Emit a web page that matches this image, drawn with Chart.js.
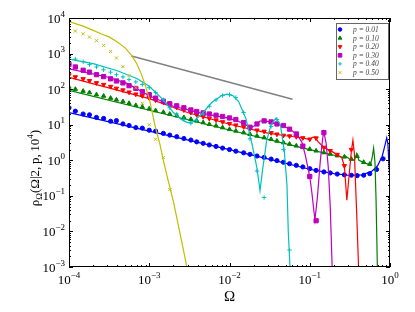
<!DOCTYPE html>
<html>
<head>
<meta charset="utf-8">
<script src="https://cdn.jsdelivr.net/npm/chart.js@4.4.1/dist/chart.umd.min.js"></script>
<style>
  body { margin: 0; background: #fff; }
  #wrap { width: 415px; height: 312px; }
</style>
</head>
<body>
<div id="wrap"><canvas id="myChart"></canvas></div>
<script>
// binned Omega values used by the markers
const omega = [
  1e-4, 1.2e-4, 1.5e-4, 1.8e-4, 2.2e-4, 2.7e-4, 3.3e-4, 3.9e-4, 4.7e-4, 5.6e-4, 6.8e-4, 8.2e-4,
  1e-3, 1.2e-3, 1.5e-3, 1.8e-3, 2.2e-3, 2.7e-3, 3.3e-3, 3.9e-3, 4.7e-3, 5.6e-3, 6.8e-3, 8.2e-3,
  0.01, 0.012, 0.015, 0.018, 0.022, 0.027, 0.033, 0.039, 0.047, 0.056, 0.068, 0.082,
  0.1, 0.12, 0.15, 0.18, 0.22, 0.27, 0.33, 0.39, 0.47, 0.56, 0.68, 0.82, 1.0
];

// measured rho values (markers), one entry per omega bin
const rhoP01 = [30, 24, 20, 19, 16, 15, 12.5, 13, 10.5, 9.5, 8.3, 8.0,
  7.0, 6.6, 5.7, 5.1, 4.6, 4.1, 3.7, 3.3, 3.0, 2.7, 2.45, 2.2,
  2.0, 1.8, 1.62, 1.47, 1.32, 1.2, 1.08, 0.98, 0.88, 0.8, 0.72, 0.65,
  0.58, 0.52, 0.47, 0.44, 0.41, 0.39, 0.38, 0.37, 0.38, 0.42, 0.55, 1.1];
const rhoP10 = [115, 100, 88, 80, 70, 64, 56, 50, 45, 40, 35, 31.5,
  28, 25, 22.5, 20, 18, 16, 14.3, 12.8, 11.5, 10.3, 9.3, 8.3,
  7.4, 6.7, 6.0, 5.4, 4.85, 4.35, 3.9, 3.5, 3.15, 2.85, 2.55, 2.3,
  2.05, 1.85, 1.65, 1.5, 1.35, 1.25, 1.08, 1.3, 0.88, 0.78];
const rhoP20 = [250, 220, 194, 172, 150, 134, 118, 105, 94, 82, 72, 65,
  56, 49, 43, 36, 31, 26, 22, 19, 16.7, 15, 13.5, 12,
  10.7, 9.7, 8.7, 7.8, 7.0, 6.5, 5.9, 5.4, 5.0, 4.8, 4.6, 4.25,
  3.9, 4.2, 2.3, 1.85, 1.45, 0.7, 2.0];
const rhoP30 = [500, 420, 340, 300, 255, 225, 195, 170, 150, 125, 105, 85,
  70, 56, 46, 39, 34, 30, 26, 23.5, 21.5, 20, 18.5, 17,
  15.5, 14, 11.5, 8.5, 10.5, 12.8, 12, 10.5, 9.5, 7.5, 5.5, 2.5,
  0.35, 0.02, 6];
const rhoP40 = [800, 700, 590, 490, 420, 350, 300, 255, 220, 185, 160, 135,
  110, 80, 50, 30, 20, 14, 11, 13, 20, 33, 50, 66,
  70, 58, 22, 4, 0.5, 0.09, 9, 14, 2, 0.003];
const rhoP50 = [5000, 4300, 3600, 2900, 2300, 1700, 1150, 750, 430, 240, 110, 40,
  10, 3.9, 1.2, 0.15];

// fitted curves (solid lines)
const fitOmegaP01 = [1e-4, 1e-3, 0.01, 0.03, 0.1, 0.2, 0.3, 0.45, 0.6, 0.7, 0.8, 0.86, 0.91, 0.94, 0.97, 1.0];
const fitRhoP01 = [22, 6.6, 2.0, 1.1, 0.56, 0.42, 0.38, 0.39, 0.5, 0.7, 1.3, 2.5, 4.3, 3.0, 0.8, 0.3];
const fitOmegaP10 = [1e-4, 1e-3, 0.01, 0.1, 0.22, 0.26, 0.28, 0.31, 0.36, 0.385, 0.41, 0.5, 0.57, 0.6, 0.625, 0.65, 0.67, 0.7];
const fitRhoP10 = [92, 25.5, 7.1, 2.0, 1.32, 1.2, 1.3, 1.1, 1.0, 1.55, 1.0, 0.82, 0.74, 1.2, 2.2, 0.9, 0.08, 0.0005];
const fitOmegaP20 = [1e-4, 1e-3, 3e-3, 0.01, 0.03, 0.05, 0.08, 0.1, 0.108, 0.117, 0.126, 0.15, 0.19, 0.25, 0.27, 0.29, 0.31, 0.33, 0.345, 0.36, 0.385, 0.41];
const fitRhoP20 = [215, 54, 22, 10.3, 5.8, 4.9, 4.3, 3.8, 4.4, 4.5, 3.4, 2.3, 1.75, 1.2, 0.7, 0.076, 0.4, 1.8, 3.7, 1.5, 0.03, 0.0005];
const fitOmegaP30 = [1e-4, 3e-4, 5.3e-4, 1e-3, 2e-3, 4.3e-3, 0.01, 0.015, 0.018, 0.021, 0.024, 0.028, 0.035, 0.045, 0.057, 0.07, 0.08, 0.088,
  0.1, 0.106, 0.116, 0.125, 0.135, 0.145, 0.15, 0.16, 0.17, 0.18, 0.19, 0.195];
const fitRhoP30 = [370, 220, 145, 65, 33, 21.5, 15, 11, 8.3, 9.5, 12.7, 12.8, 11.2, 9.5, 7.5, 5.2, 3.2, 1.4,
  0.35, 0.13, 0.021, 0.1, 0.9, 4.2, 6.3, 3, 0.66, 0.05, 0.0011, 0.0003];
const fitOmegaP40 = [1e-4, 2e-4, 4e-4, 7e-4, 1e-3, 1.5e-3, 2e-3, 2.5e-3, 3e-3, 3.5e-3, 4.5e-3, 6e-3, 8e-3, 9.3e-3, 0.011, 0.013,
  0.016, 0.019, 0.022, 0.024, 0.026, 0.029, 0.033, 0.038, 0.043, 0.048, 0.052, 0.054, 0.057];
const fitRhoP40 = [700, 520, 330, 200, 120, 50, 22, 14, 11.5, 12, 20, 42, 66, 72, 66, 45,
  15, 3, 0.6, 0.14, 0.6, 3.5, 10, 15.5, 10, 2, 0.2, 0.01, 0.0008];
const fitOmegaP50 = [1e-4, 1.5e-4, 2e-4, 2.5e-4, 3.2e-4, 4e-4, 5e-4, 6e-4, 7e-4, 8e-4, 9e-4, 1e-3, 1.1e-3,
  1.2e-3, 1.35e-3, 1.5e-3, 1.7e-3, 2e-3, 2.3e-3, 2.6e-3, 3e-3];
const fitRhoP50 = [7900, 5900, 4500, 3600, 2900, 2100, 1450, 900, 520, 260, 120, 55, 20,
  8, 3, 1, 0.3, 0.07, 0.015, 0.004, 0.0008];

// gray guide line
const refOmega = [6e-4, 0.061];
const refRho = [850, 52];

const pLabels = ['p = 0.01', 'p = 0.10', 'p = 0.20', 'p = 0.30', 'p = 0.40', 'p = 0.50'];
const colors = ['#0000ff', '#008000', '#ff0000', '#bf00bf', '#00bfbf', '#bfbf00'];
const xTickExp = [-4, -3, -2, -1, 0];
const yTickExp = [-3, -2, -1, 0, 1, 2, 3, 4];

const markerRho = [rhoP01, rhoP10, rhoP20, rhoP30, rhoP40, rhoP50];
const fitOmega = [fitOmegaP01, fitOmegaP10, fitOmegaP20, fitOmegaP30, fitOmegaP40, fitOmegaP50];
const fitRho = [fitRhoP01, fitRhoP10, fitRhoP20, fitRhoP30, fitRhoP40, fitRhoP50];
const markerStyles = [
  {pointStyle: 'circle', radius: 2.1, rotation: 0},
  {pointStyle: 'triangle', radius: 2.5, rotation: 0},
  {pointStyle: 'triangle', radius: 2.5, rotation: 180},
  {pointStyle: 'rect', radius: 3.0, rotation: 0},
  {pointStyle: 'cross', radius: 2.2, rotation: 0},
  {pointStyle: 'crossRot', radius: 2.2, rotation: 0},
];

const toPoints = (xs, ys) => ys.map((v, i) => ({x: xs[i], y: v}));

// build datasets, last series first so it ends up on top
const datasets = [];
for (let i = 5; i >= 0; i--) {
  const m = markerStyles[i];
  datasets.push({
    label: pLabels[i] + ' fit',
    data: toPoints(fitOmega[i], fitRho[i]),
    showLine: true,
    borderColor: colors[i],
    borderWidth: 1.2,
    pointRadius: 0,
  });
  datasets.push({
    label: pLabels[i],
    data: toPoints(omega, markerRho[i]),
    showLine: false,
    pointStyle: m.pointStyle,
    pointRadius: m.radius,
    rotation: m.rotation,
    backgroundColor: colors[i],
    borderColor: colors[i],
    borderWidth: 1,
  });
}
datasets.push({
  label: 'guide',
  data: toPoints(refOmega, refRho),
  showLine: true,
  borderColor: '#808080',
  borderWidth: 1.5,
  pointRadius: 0,
});

const serif = '"Liberation Serif", "DejaVu Serif", serif';

// 10^n label with raised exponent
const drawPow = (ctx, n, x, y, align) => {
  const expStr = String(n).replace('-', '\u2212');
  ctx.font = '13px ' + serif;
  const w1 = ctx.measureText('10').width;
  ctx.font = '9px ' + serif;
  const w2 = ctx.measureText(expStr).width;
  const start = align === 'center' ? x - (w1 + w2) / 2 : x - (w1 + w2);
  ctx.textAlign = 'left';
  ctx.textBaseline = 'alphabetic';
  ctx.font = '13px ' + serif;
  ctx.fillText('10', start, y);
  ctx.font = '9px ' + serif;
  ctx.fillText(expStr, start + w1, y - 6);
}

const axesPlugin = {
  id: 'axesPlugin',
  afterDraw(chart) {
    const {ctx, chartArea: a, scales: {x, y}} = chart;
    ctx.save();
    ctx.strokeStyle = '#000';
    ctx.lineWidth = 1;
    ctx.strokeRect(a.left + 0.5, a.top + 0.5, a.right - a.left - 1, a.bottom - a.top - 1);

    // inward ticks on all four sides
    ctx.beginPath();
    for (let e = -4; e <= 0; e++) {
      for (let m = 1; m <= 9; m++) {
        const v = m * Math.pow(10, e);
        if (v > 1.0001) break;
        const px = Math.round(x.getPixelForValue(v)) + 0.5;
        const len = m === 1 ? 4 : 2;
        ctx.moveTo(px, a.bottom); ctx.lineTo(px, a.bottom - len);
        ctx.moveTo(px, a.top); ctx.lineTo(px, a.top + len);
      }
    }
    for (let e = -3; e <= 4; e++) {
      for (let m = 1; m <= 9; m++) {
        const v = m * Math.pow(10, e);
        if (v > 10000.1) break;
        const py = Math.round(y.getPixelForValue(v)) + 0.5;
        const len = m === 1 ? 4 : 2;
        ctx.moveTo(a.left, py); ctx.lineTo(a.left + len, py);
        ctx.moveTo(a.right, py); ctx.lineTo(a.right - len, py);
      }
    }
    ctx.stroke();

    // tick labels
    ctx.fillStyle = '#000';
    xTickExp.forEach(n => drawPow(ctx, n, x.getPixelForValue(Math.pow(10, n)), a.bottom + 17, 'center'));
    yTickExp.forEach(n => drawPow(ctx, n, a.left - 4, y.getPixelForValue(Math.pow(10, n)) + 4.5, 'right'));

    // x axis title
    ctx.font = '15px ' + serif;
    ctx.textAlign = 'center';
    ctx.fillText('\u03A9', (a.left + a.right) / 2, 301);

    // y axis title, rotated
    ctx.save();
    ctx.translate(34, 168);
    ctx.rotate(-Math.PI / 2);
    const parts = [
      {t: '\u03C1', f: '13px ' + serif, dy: 0},
      {t: '\u03A9', f: '9px ' + serif, dy: 3},
      {t: '(\u03A9|2,\u2009p,\u200910', f: '13px ' + serif, dy: 0},
      {t: '4', f: '9px ' + serif, dy: -6},
      {t: ')', f: '13px ' + serif, dy: 0},
    ];
    let total = 0;
    parts.forEach(p => { ctx.font = p.f; p.w = ctx.measureText(p.t).width; total += p.w; });
    let cx = -total / 2;
    ctx.textAlign = 'left';
    parts.forEach(p => { ctx.font = p.f; ctx.fillText(p.t, cx, 5 + p.dy); cx += p.w; });
    ctx.restore();

    // legend box
    const lx = 336, ly = 23, lw = 52, lh = 56;
    ctx.fillStyle = '#fff';
    ctx.fillRect(lx, ly, lw, lh);
    ctx.strokeStyle = '#666';
    ctx.lineWidth = 1;
    ctx.strokeRect(lx + 0.5, ly + 0.5, lw, lh);
    pLabels.forEach((label, i) => {
      const ry = ly + 6.5 + i * 8.6;
      const m = markerStyles[i];
      ctx.fillStyle = colors[i];
      ctx.strokeStyle = colors[i];
      ctx.lineWidth = 1;
      Chart.helpers.drawPoint(ctx, {pointStyle: m.pointStyle, radius: m.radius * 0.85, rotation: m.rotation, borderWidth: 1}, lx + 4, ry);
      ctx.fillStyle = '#444';
      ctx.font = 'italic 7.5px ' + serif;
      ctx.textAlign = 'left';
      ctx.textBaseline = 'middle';
      ctx.fillText(label, lx + 17, ry + 0.5);
    });
    ctx.restore();
  }
};

const config = {
  type: 'scatter',
  data: {datasets: datasets},
  options: {
    responsive: true,
    maintainAspectRatio: false,
    animation: false,
    layout: {
      padding: {left: 69, right: 25, top: 18, bottom: 45}
    },
    plugins: {
      legend: {display: false},
      tooltip: {enabled: false},
    },
    scales: {
      x: {type: 'logarithmic', min: 1e-4, max: 1, display: false},
      y: {type: 'logarithmic', min: 1e-3, max: 1e4, display: false},
    }
  },
  plugins: [axesPlugin]
};

const myChart = new Chart(document.getElementById('myChart'), config);
</script>
</body>
</html>
